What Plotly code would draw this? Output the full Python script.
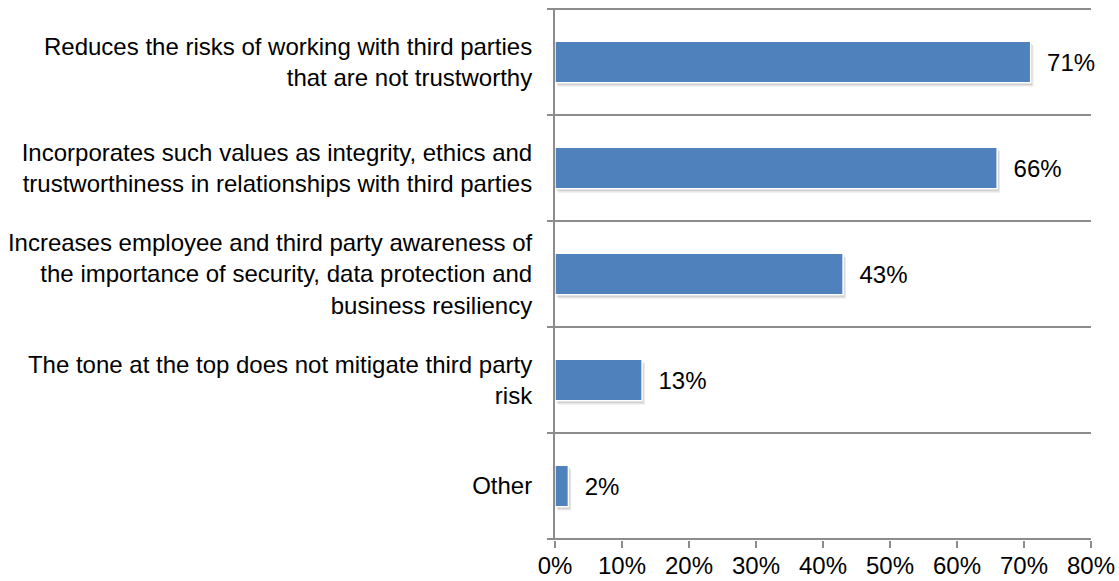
import plotly.graph_objects as go

categories = [
    "Reduces the risks of working with third parties<br>that are not trustworthy",
    "Incorporates such values as integrity, ethics and<br>trustworthiness in relationships with third parties",
    "Increases employee and third party awareness of<br>the importance of security, data protection and<br>business resiliency",
    "The tone at the top does not mitigate third party<br>risk",
    "Other",
]
values = [0.71, 0.66, 0.43, 0.13, 0.02]
value_labels = ["71%", "66%", "43%", "13%", "2%"]
x_ticks = [0, 0.1, 0.2, 0.3, 0.4, 0.5, 0.6, 0.7, 0.8]
x_tick_labels = ["0%", "10%", "20%", "30%", "40%", "50%", "60%", "70%", "80%"]

FONT = "Arial, Liberation Sans, sans-serif"
FS = 24
GRID = "#8c8c8c"
BAR = "#4f81bd"

fig = go.Figure()
# soft shadow layers
fig.add_trace(go.Bar(
    y=categories, x=values, orientation="h", base=0.004, width=0.39, offset=-0.195 + 0.035,
    marker=dict(color="rgba(0,0,0,0.10)", line=dict(width=0)), hoverinfo="skip", showlegend=False,
))
fig.add_trace(go.Bar(
    y=categories, x=values, orientation="h", base=0.002, width=0.39, offset=-0.195 + 0.02,
    marker=dict(color="rgba(0,0,0,0.12)", line=dict(width=0)), hoverinfo="skip", showlegend=False,
))
fig.add_trace(go.Bar(
    y=categories, x=values, orientation="h", width=0.39, offset=-0.195,
    marker=dict(color=BAR, line=dict(color="white", width=1.5)),
    text=["  " + t for t in value_labels], textposition="outside", cliponaxis=False,
    textfont=dict(family=FONT, size=FS, color="black"),
    hoverinfo="skip", showlegend=False,
))

# category boundary lines (gridlines between categories), extending left as tick marks
n = len(categories)
for i in range(n + 1):
    fig.add_shape(type="line", xref="paper", yref="y", x0=-0.015, x1=1,
                  y0=i - 0.5, y1=i - 0.5, line=dict(color=GRID, width=2), layer="below")

fig.update_layout(
    width=1119, height=581,
    margin=dict(l=555, r=28, t=8, b=41),
    paper_bgcolor="white", plot_bgcolor="white",
    barmode="overlay",
    font=dict(family=FONT, size=FS, color="black"),
)
fig.update_xaxes(
    range=[0, 0.8], tickvals=x_ticks, ticktext=x_tick_labels,
    showgrid=False, zeroline=False, showline=False,
    ticks="outside", ticklen=7, tickwidth=2, tickcolor=GRID,
    ticklabelstandoff=-3,
    tickfont=dict(family=FONT, size=FS, color="black"),
    automargin=False,
)
fig.update_yaxes(
    autorange="reversed", showgrid=False, zeroline=False,
    showline=True, linecolor=GRID, linewidth=2,
    ticks="", ticklabelstandoff=16,
    tickfont=dict(family=FONT, size=FS, color="black"),
    automargin=False,
)

# remove the default page margin so the figure sits at the window origin
fig.write_html(
    "out.html",
    config={"displayModeBar": False},
    post_script="document.body.style.margin='0';document.body.style.overflow='hidden';",
)
